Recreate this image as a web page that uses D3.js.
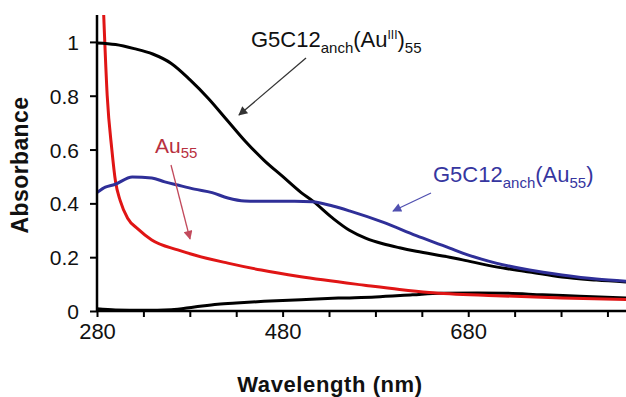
<!DOCTYPE html>
<html><head><meta charset="utf-8">
<script src="https://cdn.jsdelivr.net/npm/d3@7"></script>
<style>body{margin:0;background:#fff}svg{display:block}text{font-family:"Liberation Sans",Arial,sans-serif}</style>
</head><body>
<svg id="c" width="626" height="397"></svg>
<script>
// Data (wavelength nm, absorbance)
const auIII55 = [[280,0.996],[300,0.99],[320,0.975],[340,0.955],[360,0.92],[380,0.86],[400,0.79],[420,0.71],[440,0.63],[460,0.56],[480,0.50],[500,0.44],[512,0.41],[534,0.345],[552,0.30],[570,0.27],[588,0.25],[606,0.235],[624,0.222],[660,0.20],[674,0.19],[710,0.164],[746,0.145],[781,0.126],[818,0.115],[850,0.108]];
const g5Au55 = [[280,0.44],[289,0.46],[299,0.47],[318,0.498],[339,0.494],[353,0.48],[367,0.468],[385,0.453],[404,0.44],[421,0.42],[439,0.409],[457,0.408],[493,0.408],[512,0.406],[534,0.39],[552,0.372],[588,0.33],[624,0.28],[660,0.234],[674,0.215],[710,0.178],[746,0.152],[781,0.134],[818,0.119],[850,0.111]];
const au55 = [[287,1.12],[291,0.80],[296,0.60],[300,0.48],[305,0.41],[313,0.345],[324,0.305],[339,0.264],[367,0.227],[385,0.208],[421,0.178],[457,0.152],[498,0.128],[570,0.095],[606,0.080],[638,0.069],[710,0.057],[781,0.048],[850,0.043]];
const baseline = [[280,0.008],[300,0.004],[330,0.003],[360,0.005],[385,0.015],[410,0.025],[430,0.03],[460,0.036],[500,0.042],[540,0.048],[580,0.052],[620,0.06],[650,0.066],[690,0.067],[720,0.066],[760,0.06],[800,0.055],[850,0.048]];
const xTicks = d3.range(280, 851, 50);
const xLabels = [280, 480, 680];
const yTicks = [0, 0.2, 0.4, 0.6, 0.8, 1];

const svg = d3.select("#c");
const x = d3.scaleLinear().domain([280, 850]).range([97, 626]);
const y = d3.scaleLinear().domain([0, 1.1]).range([311, 15]);

svg.append("defs").append("clipPath").attr("id","clip")
  .append("rect").attr("x", 97).attr("y", 15).attr("width", 540).attr("height", 300);

const line = d3.line().x(d => x(d[0])).y(d => y(d[1])).curve(d3.curveMonotoneX);
const g = svg.append("g").attr("clip-path","url(#clip)");
const series = [
  {d: baseline, c: "#000"},
  {d: au55, c: "#e01515"},
  {d: auIII55, c: "#000"},
  {d: g5Au55, c: "#2f2f98"}
];
series.forEach(s => g.append("path").datum(s.d).attr("d", line)
  .attr("fill","none").attr("stroke", s.c).attr("stroke-width", 3).attr("stroke-linejoin","round"));

// Axes
const xAxis = d3.axisBottom(x).tickValues(xTicks).tickSize(6)
  .tickFormat(d => xLabels.includes(d) ? d : "");
const xa = svg.append("g").attr("transform","translate(0,311)").call(xAxis);
xa.select(".domain").attr("stroke","#000").attr("stroke-width",2.5).attr("d","M97,0H626");
xa.selectAll(".tick line").attr("stroke","#000").attr("stroke-width",2);
xa.selectAll(".tick text").attr("font-size",22).attr("fill","#111").attr("y",28).attr("dy",0)
  .attr("dominant-baseline","auto").attr("font-family","Liberation Sans, Arial");

const yAxis = d3.axisLeft(y).tickValues(yTicks).tickSize(7).tickFormat(d => d === 0 || d === 1 ? d3.format("d")(d) : d3.format(".1f")(d));
const ya = svg.append("g").attr("transform","translate(97,0)").call(yAxis);
ya.select(".domain").attr("stroke","#000").attr("stroke-width",2.5).attr("d","M0,15V311");
ya.selectAll(".tick line").attr("stroke","#000").attr("stroke-width",2);
ya.selectAll(".tick text").attr("font-size",21).attr("fill","#111").attr("x",-18).attr("dy","0.36em")
  .attr("font-family","Liberation Sans, Arial");

// Axis titles
svg.append("text").attr("x", 330).attr("y", 392).attr("text-anchor","middle")
  .attr("font-size",22).attr("font-weight","bold").attr("fill","#111").attr("letter-spacing",0.6)
  .text("Wavelength (nm)");
svg.append("text").attr("transform","translate(28,165) rotate(-90)").attr("text-anchor","middle")
  .attr("font-size",23).attr("font-weight","bold").attr("fill","#111").attr("letter-spacing",0.4)
  .text("Absorbance");

// Arrow markers
const defs = svg.select("defs");
function marker(id, color){
  defs.append("marker").attr("id", id).attr("viewBox","0 0 10 10").attr("refX",9).attr("refY",5)
    .attr("markerWidth",11).attr("markerHeight",9).attr("markerUnits","userSpaceOnUse").attr("orient","auto")
    .append("path").attr("d","M0,0L10,5L0,10Z").attr("fill", color);
}
marker("mk","#333"); marker("mr","#c24a5c"); marker("mb","#5050b0");
function arrow(x1,y1,x2,y2,c,m){
  svg.append("line").attr("x1",x1).attr("y1",y1).attr("x2",x2).attr("y2",y2)
    .attr("stroke",c).attr("stroke-width",1.3).attr("marker-end",`url(#${m})`);
}
arrow(306,58,239,115,"#333","mk");
arrow(171,165,190,239,"#c24a5c","mr");
arrow(431,193,393,211,"#5050b0","mb");

// Labels
function label(xp, yp, color, parts){
  const t = svg.append("text").attr("x", xp).attr("y", yp).attr("fill", color);
  parts.forEach(p => t.append("tspan").attr("font-size", p.s).attr("dy", p.dy || 0).text(p.t));
}
label(251, 47, "#111", [
  {t:"G5C12", s:22}, {t:"anch", s:15, dy:6}, {t:"(Au", s:22, dy:-6},
  {t:"III", s:12, dy:-8}, {t:")", s:22, dy:8}, {t:"55", s:15, dy:6}
]);
label(155, 153, "#b83040", [{t:"Au", s:21}, {t:"55", s:15, dy:5}]);
label(433, 182, "#3636a0", [
  {t:"G5C12", s:22}, {t:"anch", s:15, dy:6}, {t:"(Au", s:22, dy:-6},
  {t:"55", s:15, dy:6}, {t:")", s:22, dy:-6}
]);
</script>
</body></html>
